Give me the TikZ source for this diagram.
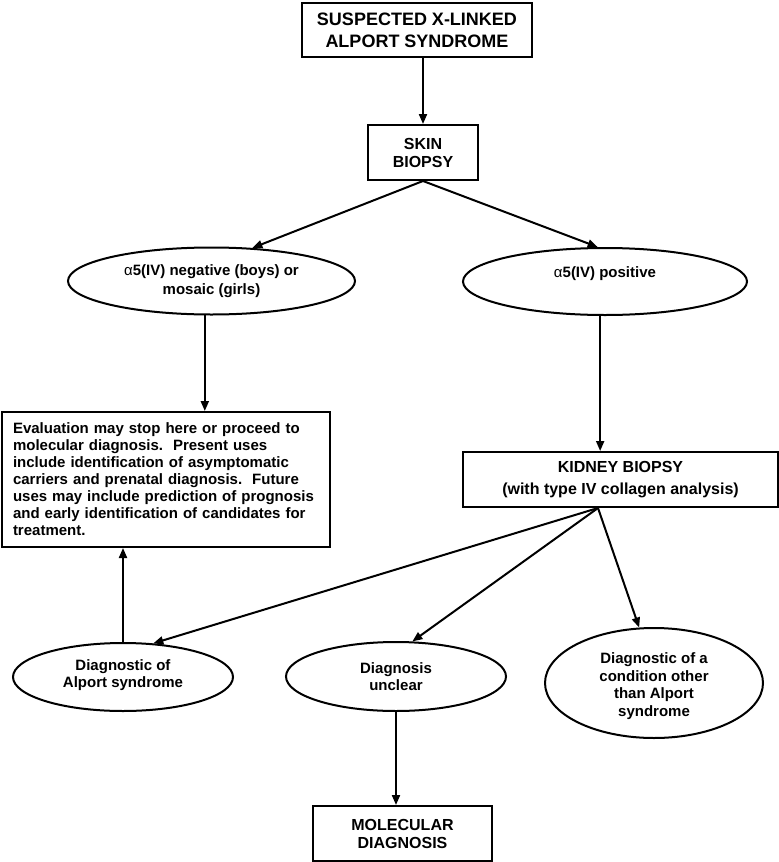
\documentclass[tikz,border=0pt]{standalone}
\usepackage{fontspec}
\setmainfont{Liberation Sans}
\usetikzlibrary{shapes.geometric,arrows.meta,calc}
\begin{document}
\frenchspacing
\begin{tikzpicture}[x=1pt,y=-1pt,
  box/.style={draw, line width=2pt, rectangle, align=center, inner sep=0pt},
  oval/.style={draw, line width=2pt, ellipse, inner sep=0pt},
  arr/.style={line width=2pt, -{Triangle[length=10pt,width=8pt]}},
  big/.style={font=\fontsize{18}{21.7}\selectfont\bfseries},
  mid/.style={font=\fontsize{16}{18}\selectfont\bfseries},
  ovtext/.style={font=\fontsize{15}{19}\selectfont\bfseries, align=center},
  lowtext/.style={font=\fontsize{15}{17.5}\selectfont\bfseries, align=center}]
\useasboundingbox (0,0) rectangle (779,862);

\node[box, big, minimum width=230, minimum height=54] (top) at (417,30) {SUSPECTED X-LINKED\\ALPORT SYNDROME};
\node[box, mid, minimum width=110, minimum height=55] (skin) at (423,152.5) {SKIN\\BIOPSY};

\node[oval, minimum width=287, minimum height=67,
  label={[ovtext]center:{{\mdseries α}5(IV) negative (boys) or\\mosaic (girls)}}] (neg) at (211.5,281) {};
\node[oval, minimum width=284, minimum height=67,
  label={[ovtext, yshift=8pt]center:{{\mdseries α}5(IV) positive}}] (pos) at (605,281.5) {};

\node[box, minimum width=328, minimum height=135, text width=306, inner xsep=11pt, align=left,
  font=\fontsize{15}{17}\selectfont\bfseries] (eval) at (166,479.5)
  {Evaluation may stop here or proceed to\\
   molecular diagnosis.~ Present uses\\
   include identification of asymptomatic\\
   carriers and prenatal diagnosis.~ Future\\
   uses may include prediction of prognosis\\
   and early identification of candidates for\\
   treatment.};

\node[box, font=\fontsize{16}{22}\selectfont\bfseries, minimum width=315, minimum height=55] (kid) at (620.5,479.5)
  {KIDNEY BIOPSY\\(with type IV collagen analysis)};

\node[oval, minimum width=220, minimum height=68,
  label={[lowtext, yshift=2pt]center:{Diagnostic of\\Alport syndrome}}] (alp) at (123,677) {};
\node[oval, minimum width=220, minimum height=69,
  label={[lowtext]center:{Diagnosis\\unclear}}] (unc) at (396,676.5) {};
\node[oval, minimum width=218, minimum height=110,
  label={[lowtext, yshift=-3pt]center:{Diagnostic of a\\condition other\\than Alport\\syndrome}}] (oth) at (654,683) {};

\node[box, mid, minimum width=179, minimum height=55] (mol) at (402.5,833.5) {MOLECULAR\\DIAGNOSIS};

\draw[arr] (skin.north |- top.south) -- (skin.north);
\draw[arr] (skin.south) -- (neg.39.7);
\draw[arr] (skin.south) -- (pos.102);
\draw[arr] (neg.-101.6) -- (neg.-101.6 |- eval.north);
\draw[arr] (pos.-98.4) -- (pos.-98.4 |- kid.north);
\coordinate (kb) at ($(kid.south)+(-22.5,0)$);
\draw[arr] (kb) -- (alp.48.6);
\draw[arr] (kb) -- (unc.65.1);
\draw[arr] (kb) -- (oth.105.3);
\draw[arr] (alp.north) -- (alp.north |- eval.south);
\draw[arr] (unc.south) -- (unc.south |- mol.north);
\end{tikzpicture}
\end{document}
